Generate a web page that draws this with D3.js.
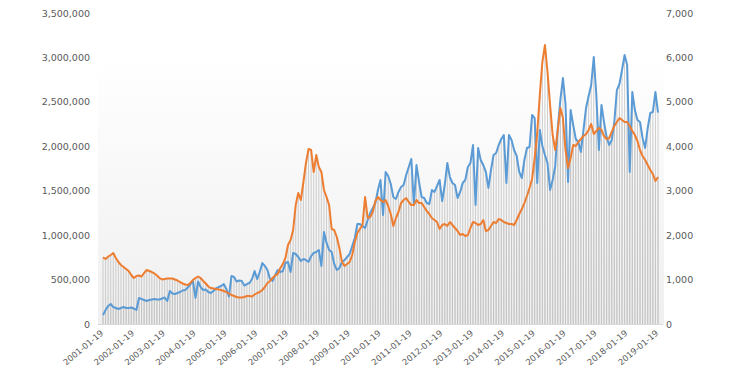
<!DOCTYPE html>
<html>
<head>
<meta charset="utf-8">
<script src="https://cdn.jsdelivr.net/npm/d3@7"></script>
<style>
  body { margin: 0; background: #fff; }
  text { font-family: "DejaVu Sans", Verdana, sans-serif; fill: #595959; }
</style>
</head>
<body>
<script>
// monthly series, 2001-01 .. 2019-01
const volume = [
  101, 158, 203, 225, 191, 180, 169, 180, 191, 180, 180, 186,
  174, 158, 293, 281, 270, 259, 270, 276, 281, 276, 276, 287,
  298, 259, 371, 343, 338, 349, 360, 377, 383, 411, 445, 484,
  293, 478, 416, 383, 388, 360, 349, 371, 400, 416, 428, 450,
  394, 309, 540, 529, 478, 490, 484, 433, 450, 461, 506, 596,
  506, 585, 686, 653, 608, 506, 484, 551, 608, 585, 596, 686,
  698, 585, 799, 788, 754, 709, 731, 720, 698, 765, 799, 810,
  833, 653, 1035, 912, 833, 810, 675, 608, 630, 698, 720, 754,
  788, 878, 968, 1125, 1125, 1103, 1080, 1170, 1249, 1305, 1362, 1508,
  1621, 1227, 1711, 1666, 1576, 1429, 1407, 1486, 1542, 1564, 1677, 1767,
  1857, 1339, 1789, 1598, 1429, 1418, 1362, 1350, 1508, 1486, 1553, 1621,
  1384, 1564, 1812, 1654, 1587, 1564, 1418, 1486, 1587, 1621, 1767, 1812,
  2014, 1339, 1981, 1846, 1789, 1711, 1531, 1733, 1902, 1924, 2014, 2082,
  2127, 1587, 2127, 2071, 1958, 1891, 1711, 1643, 1846, 1981, 1992, 2352,
  2318, 1587, 2183, 2003, 1902, 1812, 1508, 1621, 1778, 2206, 2521, 2768,
  2476, 1598, 2408, 2240, 2082, 2048, 1936, 2183, 2431, 2566, 2690, 3005,
  2577, 1958, 2465, 2273, 2104, 2014, 2071, 2273, 2633, 2701, 2858, 3027,
  2915, 1711, 2611, 2408, 2296, 2273, 2093, 1981, 2206, 2375, 2386, 2611,
  2380
].map(v => v * 1000);

const price = [
  1501, 1463, 1515, 1553, 1598, 1486, 1395, 1328, 1283, 1238, 1193, 1103,
  1035, 1080, 1092, 1069, 1148, 1215, 1193, 1170, 1137, 1092, 1035, 1002,
  1013, 1024, 1024, 1024, 1002, 979, 945, 912, 889, 878, 923, 990,
  1035, 1069, 1035, 968, 912, 844, 810, 799, 788, 777, 765, 743,
  720, 686, 653, 630, 608, 596, 596, 608, 630, 630, 619, 664,
  698, 720, 765, 833, 923, 968, 1035, 1092, 1125, 1260, 1350, 1486,
  1778, 1891, 2116, 2678, 2949, 2791, 3196, 3624, 3939, 3916, 3421, 3804,
  3534, 3421, 3016, 2859, 2678, 2138, 2116, 1958, 1711, 1395, 1305, 1350,
  1395, 1553, 1846, 2048, 2138, 2228, 2859, 2386, 2408, 2521, 2768, 2859,
  2791, 2746, 2791, 2656, 2476, 2206, 2386, 2521, 2723, 2791, 2836, 2746,
  2678, 2678, 2791, 2723, 2723, 2633, 2543, 2476, 2386, 2341, 2296, 2138,
  2228, 2251, 2206, 2296, 2228, 2161, 2093, 2003, 2026, 1981, 2003, 2161,
  2296, 2273, 2228, 2251, 2341, 2093, 2116, 2206, 2296, 2273, 2363, 2341,
  2296, 2273, 2251, 2251, 2228, 2341, 2476, 2588, 2723, 2881, 3061, 3264,
  3736, 4299, 5154, 5897, 6280, 5672, 4929, 4254, 3916, 4367, 4862, 4637,
  3916, 3511, 3736, 4029, 4006, 4096, 4164, 4231, 4277, 4367, 4502, 4277,
  4344, 4412, 4367, 4231, 4164, 4186, 4322, 4457, 4547, 4637, 4592, 4547,
  4547, 4457, 4344, 4254, 4119, 3916, 3781, 3691, 3579, 3466, 3376, 3219,
  3309
];

const yearLabels = [
  "2001-01-19", "2002-01-19", "2003-01-19", "2004-01-19", "2005-01-19",
  "2006-01-19", "2007-01-19", "2008-01-19", "2009-01-19", "2010-01-19",
  "2011-01-19", "2012-01-19", "2013-01-19", "2014-01-19", "2015-01-19",
  "2016-01-19", "2017-01-19", "2018-01-19", "2019-01-19"
];
const leftTicks = [0, 500000, 1000000, 1500000, 2000000, 2500000, 3000000, 3500000];
const rightTicks = [0, 1000, 2000, 3000, 4000, 5000, 6000, 7000];

// one category per month, labelled on every January
const months = d3.range(volume.length);

const W = 744, H = 370;
const svg = d3.select("body").append("svg").attr("width", W).attr("height", H);

const x = d3.scalePoint().domain(months).range([103, 658]);
const yL = d3.scaleLinear().domain([0, 3500000]).range([324, 13]);
const yR = d3.scaleLinear().domain([0, 7000]).range([324, 13]);

// plot area with a faint vertical gradient
const grad = svg.append("defs").append("linearGradient")
    .attr("id", "bg").attr("x1", 0).attr("y1", 0).attr("x2", 0).attr("y2", 1);
grad.append("stop").attr("offset", "0%").attr("stop-color", "#ffffff");
grad.append("stop").attr("offset", "100%").attr("stop-color", "#efefef");
svg.append("rect").attr("x", 98).attr("y", 60).attr("width", 566).attr("height", 264)
    .attr("fill", "url(#bg)");

// drop lines for both series
const drops = svg.append("g").attr("stroke", "#c2c2c2").attr("stroke-width", 0.8);
drops.selectAll("line.v").data(months).enter().append("line")
    .attr("x1", i => x(i)).attr("x2", i => x(i))
    .attr("y1", yL(0)).attr("y2", i => yL(volume[i]));
drops.selectAll("line.p").data(months).enter().append("line")
    .attr("x1", i => x(i)).attr("x2", i => x(i))
    .attr("y1", yR(0)).attr("y2", i => yR(price[i]));

svg.append("line").attr("x1", 98).attr("x2", 663).attr("y1", 324.5).attr("y2", 324.5)
    .attr("stroke", "#d9d9d9");

const lineL = d3.line().x((d, i) => x(i)).y(d => yL(d));
const lineR = d3.line().x((d, i) => x(i)).y(d => yR(d));

svg.append("path").datum(volume).attr("d", lineL)
    .attr("fill", "none").attr("stroke", "#5b9bd5").attr("stroke-width", 2)
    .attr("stroke-linejoin", "round");
svg.append("path").datum(price).attr("d", lineR)
    .attr("fill", "none").attr("stroke", "#ed7d31").attr("stroke-width", 2)
    .attr("stroke-linejoin", "round");

// axes
const axL = svg.append("g").attr("transform", "translate(90,0)")
    .call(d3.axisLeft(yL).tickValues(leftTicks).tickSize(0).tickPadding(0)
        .tickFormat(d3.format(",")));
const axR = svg.append("g").attr("transform", "translate(666,0)")
    .call(d3.axisRight(yR).tickValues(rightTicks).tickSize(0).tickPadding(0)
        .tickFormat(d3.format(",")));
[axL, axR].forEach(a => {
  a.select(".domain").remove();
  a.selectAll("text").style("font-size", "9.5px").attr("fill", "#595959")
      .style("font-family", "'DejaVu Sans', Verdana, sans-serif");
});

svg.append("g").selectAll("text").data(yearLabels).enter().append("text")
    .attr("transform", (d, k) => `translate(${x(k * 12) + 1},334) rotate(-40)`)
    .attr("text-anchor", "end")
    .style("font-size", "8.5px")
    .text(d => d);
</script>
</body>
</html>
